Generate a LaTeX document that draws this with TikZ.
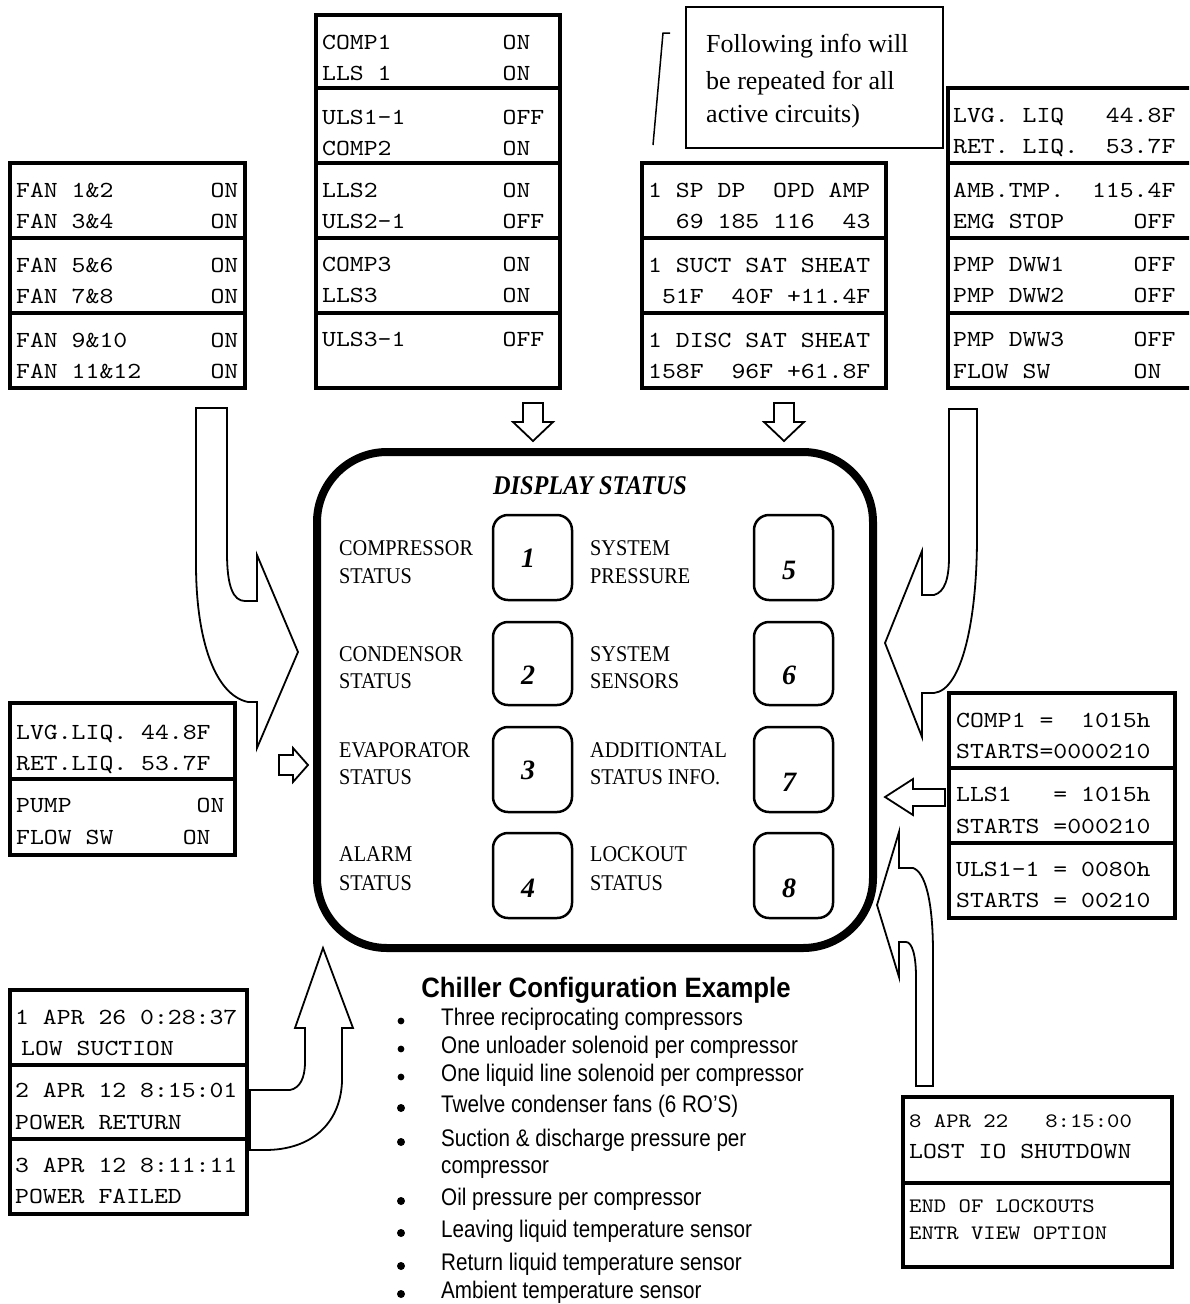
\documentclass[tikz,border=0pt]{standalone}
\usepackage{fontspec}
\setmainfont{Liberation Serif}
\newfontfamily\lblfont[FakeStretch=0.9]{Liberation Serif}
\newfontfamily\arialc[FakeStretch=0.86]{Liberation Sans}
\newfontfamily\arialt[FakeStretch=0.92]{Liberation Sans}
\newfontfamily\lcd[FakeStretch=1.15]{lmmono10-regular.otf}
\newcommand\lcdrow[4]{\node[lcdtxt] (#1) at (#2,#3) {#4};}
\newcommand\lcdsm[4]{\node[lcdsmall] (#1) at (#2,#3) {#4};}
\tikzset{
  lcdbox/.style={line width=4.5pt, draw=black, fill=white, line join=miter},
  lcdline/.style={line width=4.5pt, draw=black},
  lcdtxt/.style={anchor=base west, inner sep=0pt, font=\lcd\fontsize{23}{23}\selectfont},
  lcdsmall/.style={anchor=base west, inner sep=0pt, font=\lcd\fontsize{20.5}{20.5}\selectfont},
  bigarrow/.style={draw=black, line width=1.8pt, fill=white, line join=miter},
  keybox/.style={draw=black, line width=2.5pt, rounded corners=15pt},
  lbl/.style={anchor=base west, inner sep=0pt, font=\lblfont\fontsize{22.5}{22.5}\selectfont},
  keynum/.style={inner sep=0pt, font=\bfseries\itshape\fontsize{28}{28}\selectfont},
  bullettxt/.style={anchor=base west, inner sep=0pt, font=\arialc\fontsize{24}{24}\selectfont},
  calltxt/.style={anchor=base west, inner sep=0pt, font=\fontsize{26}{26}\selectfont},
}
\begin{document}
\begin{tikzpicture}[x=1pt,y=-1pt]
\path[use as bounding box] (0,0) rectangle (1189,1304);
\clip (0,0) rectangle (1189,1304);

% ---------- big curved arrows ----------
\draw[bigarrow] (196,408) -- (227,408) -- (227,553)
  .. controls (227,586) and (233,601) .. (245,601) -- (257,601) -- (257,555)
  -- (298,652) -- (257,748) -- (257,702) -- (248,702)
  .. controls (215,695) and (196,640) .. (196,564) -- cycle;
\draw[bigarrow] (949,409) -- (977,409) -- (977,537)
  .. controls (977,620) and (962,690) .. (934,693) -- (922,693) -- (922,737)
  -- (885,643) -- (922,551) -- (922,595) -- (934,595)
  .. controls (945,592) and (949,578) .. (949,557) -- cycle;
\draw[bigarrow] (916,1086) -- (916,977)
  .. controls (916,955) and (912,942) .. (906,942) -- (899,942) -- (899,977)
  -- (877,905) -- (899,832) -- (899,868) -- (913,868)
  .. controls (925,872) and (933,900) .. (933,953) -- (933,1086) -- cycle;
\draw[bigarrow] (250,1090) -- (290,1090)
  .. controls (300,1088) and (305,1078) .. (305,1062) -- (305,1028) -- (295,1028)
  -- (323,948) -- (353,1028) -- (342,1028) -- (342,1082)
  .. controls (340,1125) and (310,1150) .. (265,1150) -- (250,1150) -- cycle;

% ---------- small hollow arrows ----------
\foreach \cx in {533,784}{
  \draw[bigarrow] (\cx-10,403) -- (\cx+10,403) -- (\cx+10,422) -- (\cx+20,422)
    -- (\cx,441) -- (\cx-20,422) -- (\cx-10,422) -- cycle;}
\draw[bigarrow] (279,755) -- (293,755) -- (293,748) -- (308,765) -- (293,782)
  -- (293,775) -- (279,775) -- cycle;
\draw[bigarrow] (945,789) -- (913,789) -- (913,779) -- (885,797) -- (913,815)
  -- (913,806) -- (945,806) -- cycle;

% ---------- FAN box ----------
\draw[lcdbox] (10,163) rectangle (245,388);
\draw[lcdline] (10,238) -- (245,238) (10,313) -- (245,313);
\lcdrow{f1}{16}{197}{FAN~1\&2~~~~~~~ON}
\lcdrow{f2}{16}{228}{FAN~3\&4~~~~~~~ON}
\lcdrow{f3}{16}{272}{FAN~5\&6~~~~~~~ON}
\lcdrow{f4}{16}{303}{FAN~7\&8~~~~~~~ON}
\lcdrow{f5}{16}{347}{FAN~9\&10~~~~~~ON}
\lcdrow{f6}{16}{378}{FAN~11\&12~~~~~ON}

% ---------- COMP box ----------
\draw[lcdbox] (316,15) rectangle (560,388);
\draw[lcdline] (316,88) -- (560,88) (316,163) -- (560,163) (316,238) -- (560,238) (316,313) -- (560,313);
\lcdrow{c1}{322}{49}{COMP1~~~~~~~~ON}
\lcdrow{c2}{322}{80}{LLS~1~~~~~~~~ON}
\lcdrow{c3}{322}{124}{ULS1-1~~~~~~~OFF}
\lcdrow{c4}{322}{155}{COMP2~~~~~~~~ON}
\lcdrow{c5}{322}{197}{LLS2~~~~~~~~~ON}
\lcdrow{c6}{322}{228}{ULS2-1~~~~~~~OFF}
\lcdrow{c7}{322}{271}{COMP3~~~~~~~~ON}
\lcdrow{c8}{322}{302}{LLS3~~~~~~~~~ON}
\lcdrow{c9}{322}{346}{ULS3-1~~~~~~~OFF}

% ---------- callout ----------
\draw[line width=1.5pt, fill=white] (686,7) rectangle (943,148);
\node[calltxt] (t1) at (706,52) {Following info will};
\node[calltxt] (t2) at (706,89) {be repeated for all};
\node[calltxt] (t3) at (706,122) {active circuits)};
\draw[line width=1.5pt] (670,33) -- (663,33) -- (653,145);

% ---------- SP box ----------
\draw[lcdbox] (642,163) rectangle (886,388);
\draw[lcdline] (642,238) -- (886,238) (642,313) -- (886,313);
\lcdrow{s1}{648}{197}{1~SP~DP~~OPD~AMP}
\lcdrow{s2}{648}{228}{~~69~185~116~~43}
\lcdrow{s3}{648}{272}{1~SUCT~SAT~SHEAT}
\lcdrow{s4}{648}{303}{~51F~~40F~+11.4F}
\lcdrow{s5}{648}{347}{1~DISC~SAT~SHEAT}
\lcdrow{s6}{648}{378}{158F~~96F~+61.8F}

% ---------- right sensor box ----------
\draw[lcdbox] (948,88) rectangle (1205,388);
\draw[lcdline] (948,163) -- (1205,163) (948,238) -- (1205,238) (948,313) -- (1205,313);
\lcdrow{r1}{953}{122}{LVG.~LIQ~~~44.8F}
\lcdrow{r2}{953}{153}{RET.~LIQ.~~53.7F}
\lcdrow{r3}{953}{197}{AMB.TMP.~~115.4F}
\lcdrow{r4}{953}{228}{EMG~STOP~~~~~OFF}
\lcdrow{r5}{953}{271}{PMP~DWW1~~~~~OFF}
\lcdrow{r6}{953}{302}{PMP~DWW2~~~~~OFF}
\lcdrow{r7}{953}{346}{PMP~DWW3~~~~~OFF}
\lcdrow{r8}{953}{378}{FLOW~SW~~~~~~ON}

% ---------- LVG left box ----------
\draw[lcdbox] (10,703) rectangle (235,855);
\draw[lcdline] (10,779) -- (235,779);
\lcdrow{l1}{16}{739}{LVG.LIQ.~44.8F}
\lcdrow{l2}{16}{770}{RET.LIQ.~53.7F}
\lcdrow{l3}{16}{812}{PUMP~~~~~~~~~ON}
\lcdrow{l4}{16}{844}{FLOW~SW~~~~~ON}

% ---------- hours box ----------
\draw[lcdbox] (949,693) rectangle (1175,918);
\draw[lcdline] (949,768) -- (1175,768) (949,843) -- (1175,843);
\lcdrow{h1}{956}{727}{COMP1~=~~1015h}
\lcdrow{h2}{956}{758}{STARTS=0000210}
\lcdrow{h3}{956}{801}{LLS1~~~=~1015h}
\lcdrow{h4}{956}{833}{STARTS~=000210}
\lcdrow{h5}{956}{876}{ULS1-1~=~0080h}
\lcdrow{h6}{956}{907}{STARTS~=~00210}

% ---------- alarm box ----------
\draw[lcdbox] (10,990) rectangle (247,1214);
\draw[lcdline] (10,1065) -- (247,1065) (10,1139) -- (247,1139);
\lcdrow{a1}{15}{1024}{1~APR~26~0:28:37}
\lcdrow{a2}{21}{1055}{LOW~SUCTION}
\lcdrow{a3}{15}{1097}{2~APR~12~8:15:01}
\lcdrow{a4}{15}{1129}{POWER~RETURN}
\lcdrow{a5}{15}{1172}{3~APR~12~8:11:11}
\lcdrow{a6}{15}{1203}{POWER~FAILED}

% ---------- lockout box ----------
\draw[lcdbox] (903,1097) rectangle (1172,1267);
\draw[lcdline] (903,1183) -- (1172,1183);
\lcdsm{k1}{909}{1127}{8~APR~22~~~8:15:00}
\lcdrow{k2}{909}{1158}{LOST~IO~SHUTDOWN}
\lcdsm{k3}{909}{1212}{END~OF~LOCKOUTS}
\lcdsm{k4}{909}{1239}{ENTR~VIEW~OPTION}

% ---------- central display ----------
\draw[line width=8pt, rounded corners=70pt] (317,452) rectangle (873,948);
\node[anchor=base, inner sep=0pt, font=\lblfont\bfseries\itshape\fontsize{27}{27}\selectfont] (ttl) at (590,494) {DISPLAY STATUS};
\foreach \yt/\yb/\n/\m/\ya/\yc in {515/600/1/5/558/570, 622/705/2/6/675/675, 727/812/3/7/770/782, 833/918/4/8/888/888}{
  \draw[keybox] (493,\yt) rectangle (572,\yb);
  \draw[keybox] (754,\yt) rectangle (833,\yb);
  \node[keynum] (kn\n) at (528,\ya) {\n};
  \node[keynum] (kn\m) at (789,\yc) {\m};
}
\node[lbl] (la1) at (339,555) {COMPRESSOR};
\node[lbl] (la2) at (339,583) {STATUS};
\node[lbl] (lb1) at (339,661) {CONDENSOR};
\node[lbl] (lb2) at (339,688) {STATUS};
\node[lbl] (lc1) at (339,757) {EVAPORATOR};
\node[lbl] (lc2) at (339,784) {STATUS};
\node[lbl] (ld1) at (339,861) {ALARM};
\node[lbl] (ld2) at (339,890) {STATUS};
\node[lbl] (ra1) at (590,555) {SYSTEM};
\node[lbl] (ra2) at (590,583) {PRESSURE};
\node[lbl] (rb1) at (590,661) {SYSTEM};
\node[lbl] (rb2) at (590,688) {SENSORS};
\node[lbl] (rc1) at (590,757) {ADDITIONTAL};
\node[lbl] (rc2) at (590,784) {STATUS INFO.};
\node[lbl] (rd1) at (590,861) {LOCKOUT};
\node[lbl] (rd2) at (590,890) {STATUS};

% ---------- configuration list ----------
\node[anchor=base, inner sep=0pt, font=\arialt\bfseries\fontsize{28}{28}\selectfont] (cfg) at (606,997) {Chiller Configuration Example};
\foreach \yb/\yd/\r/\txt [count=\i] in {
  1025/1021/3.4/Three reciprocating compressors,
  1053/1049/3.4/One unloader solenoid per compressor,
  1081/1077/3.4/One liquid line solenoid per compressor,
  1112/1108/4/Twelve condenser fans (6 RO’S),
  1146/1142/4/Suction \& discharge pressure per,
  1173/0/0/compressor,
  1205/1201/4/Oil pressure per compressor,
  1237/1233/4/Leaving liquid temperature sensor,
  1270/1266/4/Return liquid temperature sensor,
  1298/1294/4/Ambient temperature sensor}{
  \node[bullettxt] (b\i) at (441,\yb) {\txt};
  \ifdim\r pt>0pt \fill (401,\yd) circle[radius=\r]; \fi
}
\end{tikzpicture}
\end{document}
